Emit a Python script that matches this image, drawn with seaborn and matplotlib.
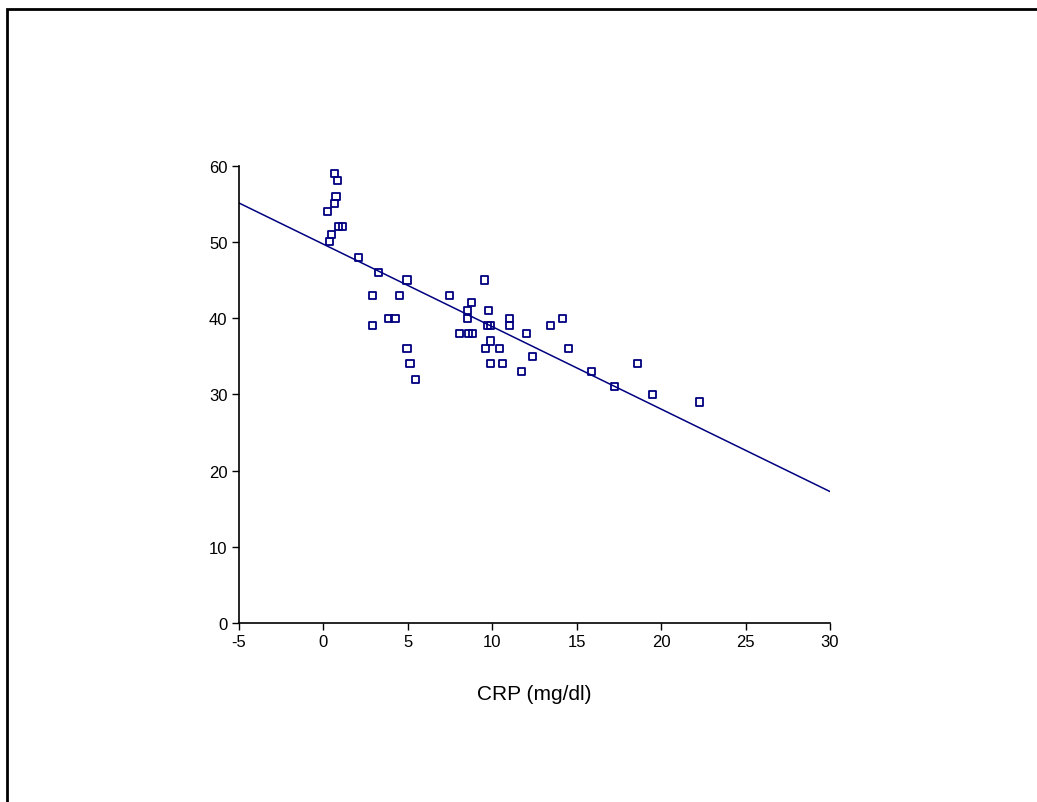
import matplotlib
matplotlib.use("Agg")
import matplotlib.pyplot as plt
import seaborn as sns
import pandas as pd
from matplotlib.patches import Rectangle

crp = [0.66, 0.83, 0.76, 0.66, 0.28, 0.92, 1.15, 0.48, 0.38, 2.10,
       3.26, 4.96, 9.53, 2.91, 4.50, 7.46, 8.80, 8.53, 9.79, 3.89,
       4.25, 8.53, 11.05, 14.19, 2.91, 9.74, 9.89, 11.05, 13.46, 8.09,
       8.60, 8.84, 12.04, 9.89, 4.96, 9.62, 10.42, 14.54, 12.40, 5.14,
       9.89, 10.60, 18.59, 11.76, 15.90, 5.49, 17.22, 19.47, 22.30]
val = [59, 58, 56, 55, 54, 52, 52, 51, 50, 48,
       46, 45, 45, 43, 43, 43, 42, 41, 41, 40,
       40, 40, 40, 40, 39, 39, 39, 39, 39, 38,
       38, 38, 38, 37, 36, 36, 36, 36, 35, 34,
       34, 34, 34, 33, 33, 32, 31, 30, 29]
x_ticks = [-5, 0, 5, 10, 15, 20, 25, 30]
y_ticks = [0, 10, 20, 30, 40, 50, 60]
x_label = "CRP (mg/dl)"

df = pd.DataFrame({"crp": crp, "val": val})

sns.set_style("ticks")
plt.rcParams["font.family"] = ["Liberation Sans", "DejaVu Sans"]
plt.rcParams["text.color"] = "black"
plt.rcParams["axes.labelcolor"] = "black"

fig = plt.figure(figsize=(10.37, 8.03), dpi=100)
ax = fig.add_axes([0.2302, 0.2229, 0.5702, 0.5695])
ax.set_xlim(-5, 30)
ax.set_ylim(0, 60)

navy = "#000080"
sns.regplot(data=df, x="crp", y="val", ax=ax, scatter=False, ci=None,
            truncate=False, line_kws={"color": navy, "lw": 1.1})
sns.scatterplot(data=df, x="crp", y="val", ax=ax, marker="s", s=26,
                facecolors="none", edgecolor=navy, linewidth=1.3, zorder=3)

ax.set_xlim(-5, 30)
ax.set_ylim(0, 60)
ax.set_xticks(x_ticks)
ax.set_yticks(y_ticks)
ax.set_xticklabels([str(t) for t in x_ticks])
ax.set_yticklabels([str(t) for t in y_ticks])
ax.tick_params(axis="both", direction="out", length=5, width=1,
               labelsize=12, colors="black", pad=3)
for s in ["left", "bottom"]:
    ax.spines[s].set_color("black")
    ax.spines[s].set_linewidth(1.2)
sns.despine(ax=ax)
ax.set_xlabel(x_label, fontsize=15, labelpad=25, color="black")
ax.set_ylabel("")

fig.patches.append(Rectangle((0.0068, -0.2), 1.5, 0.988 + 0.2,
                             transform=fig.transFigure, fill=False,
                             edgecolor="black", linewidth=2))

fig.savefig("out.png", dpi=100, facecolor="white")
